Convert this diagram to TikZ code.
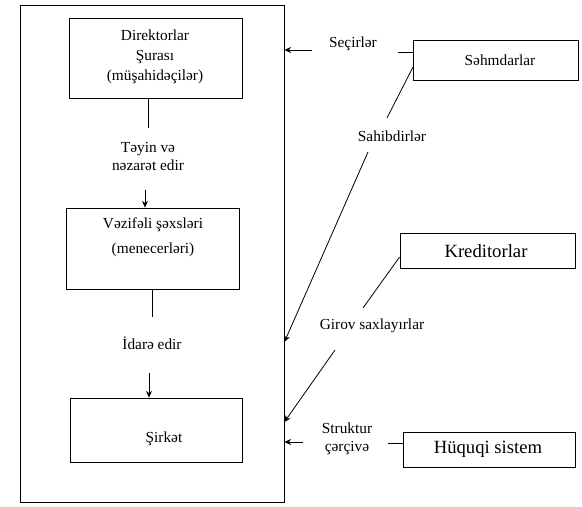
\documentclass[tikz,border=0pt]{standalone}
\usepackage{fontspec}
\setmainfont{Liberation Serif}
\usetikzlibrary{arrows.meta,fit}
\begin{document}
\begin{tikzpicture}[x=0.75pt,y=-0.75pt,
  box/.style={draw,line width=0.6pt,inner sep=0pt},
  txt/.style={font=\fontsize{11.5}{15}\selectfont,align=center,inner sep=1pt},
  bigtxt/.style={font=\fontsize{14}{17}\selectfont,align=center,inner sep=1pt},
  link/.style={line width=0.6pt},
  arr/.style={line width=0.6pt,-{Stealth[length=5pt,width=4.5pt]}}]
\useasboundingbox (0,0) rectangle (582,507);

% the company frame and its internal chain
\node[box,fit={(20,5) (284,502)}] (frame) {};
\node[box,fit={(69,18) (242,98)}] (dir) {};
\node[txt] (dirt) at (155,57) {Direktorlar\\Şurası\\(müşahidəçilər)};
\node[box,fit={(66,208) (239,289)}] (vez) {};
\node[txt,font=\fontsize{11.5}{19}\selectfont] (vezt) at (153,237) {Vəzifəli şəxsləri\\(menecerləri)};
\node[box,fit={(70,398) (242,462)}] (sirk) {};
\node[txt] (sirkt) at (164,439) {Şirkət};

\node[txt,font=\fontsize{11.5}{13.5}\selectfont] (tayin) at (148,156) {Təyin və\\nəzarət edir};
\node[txt] (idare) at (152,343) {İdarə edir};

\coordinate (d1) at (148,98);
\draw[link] (d1) -- (d1 |- 0,128);
\coordinate (a1) at (145,190);
\draw[arr] (a1) -- (a1 |- vez.north);
\coordinate (v1) at (152,289);
\draw[link] (v1) -- (v1 |- 0,317);
\coordinate (a2) at (149,373);
\draw[arr] (a2) -- (a2 |- sirk.north);

% outside parties
\node[box,fit={(413,40) (578,80)}] (sehm) {};
\node[txt] (sehmt) at (500,60) {Səhmdarlar};
\node[box,fit={(400,233) (575,268)}] (kred) {};
\node[bigtxt] (kredt) at (486,251) {Kreditorlar};
\node[box,fit={(403,432) (575,467)}] (huq) {};
\node[bigtxt] (huqt) at (488,449) {Hüquqi sistem};

\node[txt] (secir) at (353,44) {Seçirlər};
\node[txt] (sahib) at (392,136) {Sahibdirlər};
\node[txt] (girov) at (372,326) {Girov saxlayırlar};
\node[txt,font=\fontsize{11.5}{13.5}\selectfont] (strukt) at (347,439) {Struktur\\çərçivə};

% shareholders elect
\coordinate (s1) at (312,50);
\draw[arr] (s1) -- (frame.east |- s1);
\coordinate (s2) at (398,52);
\draw[link] (s2) -- (sehm.west |- s2);

% shareholders own
\coordinate (o0) at (413,67);
\coordinate (o1) at (387,118);
\coordinate (o2) at (368,152);
\coordinate (o3) at (0,342);
\draw[link] (o0) -- (o1);
\draw[arr] (o2) -- (frame.east |- o3);

% creditors hold collateral
\coordinate (k0) at (400,257);
\coordinate (k1) at (363,308);
\coordinate (k2) at (335,350);
\coordinate (k3) at (0,422);
\draw[link] (kred.west |- k0) -- (k1);
\draw[arr] (k2) -- (frame.east |- k3);

% legal system frames
\coordinate (h1) at (303,442);
\draw[arr] (h1) -- (frame.east |- h1);
\coordinate (h2) at (388,443);
\draw[link] (h2) -- (huq.west |- h2);
\end{tikzpicture}
\end{document}
